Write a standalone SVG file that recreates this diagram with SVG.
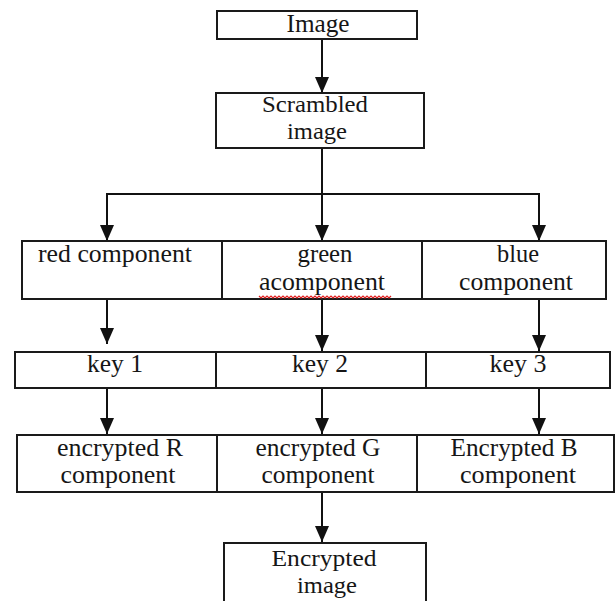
<svg xmlns="http://www.w3.org/2000/svg" width="616" height="601" viewBox="0 0 616 601">
<defs>
<style>
.box{fill:#fff;stroke:#1a1a1a;stroke-width:2}
.t{font-family:"Liberation Serif","Times New Roman",serif;font-size:25px;fill:#161616;text-anchor:middle}
.s{font-size:24px}
.c{fill:none;stroke:#111;stroke-width:2}
.sq{fill:none;stroke:#e02020;stroke-width:1.2}
</style>
<marker id="ah" viewBox="0 0 16 14" refX="16" refY="7" markerWidth="16" markerHeight="14" markerUnits="userSpaceOnUse" orient="auto">
<path d="M0,0 L16,7 L0,14 z" fill="#111"/>
</marker>
</defs>
<rect width="616" height="601" fill="#fff"/>
<g id="connectors">
<line class="c" x1="322" y1="39" x2="322" y2="93" marker-end="url(#ah)"/>
<polyline class="c" points="322,148 322,194"/>
<polyline class="c" points="107,241 107,194 539,194 539,241"/>
<line class="c" x1="107" y1="194" x2="107" y2="241" marker-end="url(#ah)"/>
<line class="c" x1="322" y1="194" x2="322" y2="241" marker-end="url(#ah)"/>
<line class="c" x1="539" y1="194" x2="539" y2="241" marker-end="url(#ah)"/>
<line class="c" x1="107" y1="299" x2="107" y2="344" marker-end="url(#ah)"/>
<line class="c" x1="322" y1="299" x2="322" y2="351" marker-end="url(#ah)"/>
<line class="c" x1="539" y1="299" x2="539" y2="351" marker-end="url(#ah)"/>
<line class="c" x1="107" y1="388" x2="107" y2="434" marker-end="url(#ah)"/>
<line class="c" x1="322" y1="388" x2="322" y2="434" marker-end="url(#ah)"/>
<line class="c" x1="539" y1="388" x2="539" y2="434" marker-end="url(#ah)"/>
<line class="c" x1="322" y1="492" x2="322" y2="542" marker-end="url(#ah)"/>
</g>
<g id="image">
<rect class="box" x="217" y="11" width="200" height="28"/>
<text class="t" x="318" y="32" textLength="63" lengthAdjust="spacingAndGlyphs">Image</text>
</g>
<g id="scrambled">
<rect class="box" x="216" y="93" width="208" height="55"/>
<text class="t s" x="315" y="112" textLength="106" lengthAdjust="spacingAndGlyphs">Scrambled</text>
<text class="t s" x="317" y="139" textLength="60" lengthAdjust="spacingAndGlyphs">image</text>
</g>
<g id="red">
<rect class="box" x="22" y="241" width="200" height="58"/>
<text class="t" x="115" y="262" textLength="154" lengthAdjust="spacingAndGlyphs">red component</text>
</g>
<g id="green">
<rect class="box" x="222" y="241" width="200" height="58"/>
<text class="t" x="325" y="262" textLength="55" lengthAdjust="spacingAndGlyphs">green</text>
<text class="t" x="322" y="290" textLength="126" lengthAdjust="spacingAndGlyphs">acomponent</text>
<path class="sq" d="M259,296 l2,2 l2,-2 l2,2 l2,-2 l2,2 l2,-2 l2,2 l2,-2 l2,2 l2,-2 l2,2 l2,-2 l2,2 l2,-2 l2,2 l2,-2 l2,2 l2,-2 l2,2 l2,-2 l2,2 l2,-2 l2,2 l2,-2 l2,2 l2,-2 l2,2 l2,-2 l2,2 l2,-2 l2,2 l2,-2 l2,2 l2,-2 l2,2 l2,-2 l2,2 l2,-2 l2,2 l2,-2 l2,2 l2,-2 l2,2 l2,-2 l2,2 l2,-2 l2,2 l2,-2 l2,2 l2,-2 l2,2 l2,-2 l2,2 l2,-2 l2,2 l2,-2 l2,2 l2,-2 l2,2 l2,-2 l2,2 l2,-2 l2,2 l2,-2 l2,2 l2,-2"/>
</g>
<g id="blue">
<rect class="box" x="422" y="241" width="184" height="58"/>
<text class="t" x="518" y="262" textLength="42" lengthAdjust="spacingAndGlyphs">blue</text>
<text class="t" x="516" y="290" textLength="114" lengthAdjust="spacingAndGlyphs">component</text>
</g>
<g id="key1">
<rect class="box" x="15" y="352" width="201" height="36"/>
<text class="t" x="115" y="372" textLength="56" lengthAdjust="spacingAndGlyphs">key 1</text>
</g>
<g id="key2">
<rect class="box" x="216" y="352" width="210" height="36"/>
<text class="t" x="320" y="372" textLength="56" lengthAdjust="spacingAndGlyphs">key 2</text>
</g>
<g id="key3">
<rect class="box" x="426" y="352" width="184" height="36"/>
<text class="t" x="518" y="372" textLength="57" lengthAdjust="spacingAndGlyphs">key 3</text>
</g>
<g id="encR">
<rect class="box" x="17" y="435" width="200" height="57"/>
<text class="t" x="120" y="456" textLength="126" lengthAdjust="spacingAndGlyphs">encrypted R</text>
<text class="t" x="118" y="483" textLength="115" lengthAdjust="spacingAndGlyphs">component</text>
</g>
<g id="encG">
<rect class="box" x="217" y="435" width="200" height="57"/>
<text class="t" x="318" y="456" textLength="125" lengthAdjust="spacingAndGlyphs">encrypted G</text>
<text class="t" x="318" y="483" textLength="113" lengthAdjust="spacingAndGlyphs">component</text>
</g>
<g id="encB">
<rect class="box" x="417" y="435" width="197" height="57"/>
<text class="t" x="514" y="456" textLength="127" lengthAdjust="spacingAndGlyphs">Encrypted B</text>
<text class="t" x="518" y="483" textLength="116" lengthAdjust="spacingAndGlyphs">component</text>
</g>
<g id="encImage">
<rect class="box" x="224" y="543" width="202" height="70"/>
<text class="t s" x="324" y="566" textLength="105" lengthAdjust="spacingAndGlyphs">Encrypted</text>
<text class="t s" x="327" y="593" textLength="60" lengthAdjust="spacingAndGlyphs">image</text>
</g>
</svg>
